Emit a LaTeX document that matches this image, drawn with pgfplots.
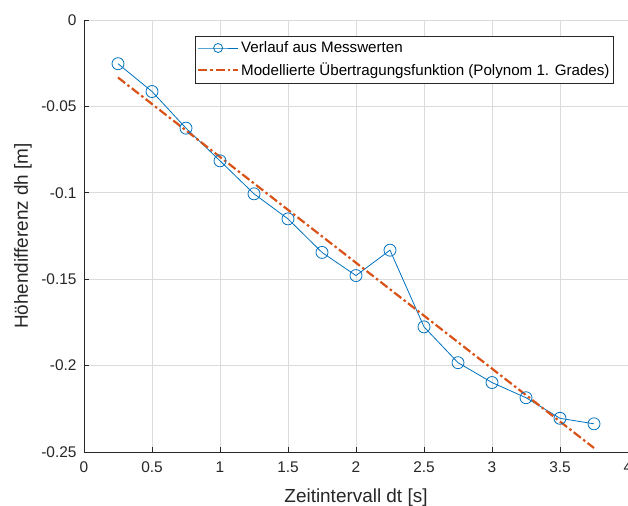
\documentclass[border=0pt]{standalone}
\usepackage{fontspec}
\setmainfont{Liberation Sans}
\usepackage{pgfplots}
\pgfplotsset{compat=1.18}
\definecolor{mblue}{rgb}{0,0.447,0.741}
\definecolor{morange}{rgb}{0.85,0.325,0.098}
\definecolor{axgray}{rgb}{0.15,0.15,0.15}
\begin{document}
\begin{tikzpicture}
\begin{axis}[
  name=ax,
  scale only axis, width=544bp, height=432bp,
  xmin=0, xmax=4, ymin=-0.25, ymax=0,
  xtick={0,0.5,1,1.5,2,2.5,3,3.5,4},
  ytick={-0.25,-0.2,-0.15,-0.1,-0.05,0},
  yticklabels={-0.25,-0.2,-0.15,-0.1,-0.05,0},
  xticklabels={0,0.5,1,1.5,2,2.5,3,3.5,4},
  axis x line*=bottom, axis y line*=left,
  axis line style={draw=axgray, line width=0.8bp},
  tick align=inside, major tick length=5bp,
  tick style={draw=axgray, line width=0.6bp},
  grid=major, major grid style={line width=0.6bp, draw=black!14},
  ticklabel style={font=\fontsize{15.5}{16}\selectfont, text=axgray},
  xticklabel style={yshift=-6bp},
  yticklabel style={xshift=-4bp},
  xlabel={Zeitintervall dt [s]},
  ylabel={Höhendifferenz dh [m]},
  label style={font=\fontsize{19}{20}\selectfont, text=axgray},
  xlabel style={at={(axis description cs:0.5,-0.118)}, anchor=base},
  ylabel style={at={(axis description cs:-0.112,0.5)}, anchor=center, rotate=0},
  legend style={at={(axis description cs:0.974,0.963)}, anchor=north east,
    draw=axgray, line width=0.6bp, fill=white,
    font=\fontsize{15.2}{18}\selectfont, text=black,
    inner xsep=2bp, inner ysep=3.5bp, row sep=5bp},
  legend cell align=left,
  legend image code/.code={\draw[mark repeat=2,mark phase=2,#1,mark size=4.5bp] plot coordinates {(0bp,0bp) (20bp,0bp) (40bp,0bp)};},
]
\addplot[color=mblue, line width=0.8bp, mark=o, mark size=6bp, mark options={solid, line width=0.8bp}] coordinates {
(0.25,-0.0253) (0.5,-0.0414) (0.75,-0.0626) (1.0,-0.0815) (1.25,-0.1006)
(1.5,-0.1151) (1.75,-0.1345) (2.0,-0.1479) (2.25,-0.1332) (2.5,-0.1776)
(2.75,-0.1983) (3.0,-0.2098) (3.25,-0.2186) (3.5,-0.2305) (3.75,-0.2337)
};
\addlegendentry{Verlauf aus Messwerten}
\addplot[color=morange, line width=2.2bp, dash pattern=on 9bp off 3bp on 2.5bp off 3bp] coordinates {
(0.25,-0.0333) (3.75,-0.2477)
};
\addlegendentry{Modellierte Übertragungsfunktion (Polynom 1. Grades)}
\end{axis}
\pgfresetboundingbox
\path ([shift={(-84bp,-54bp)}]ax.south west) rectangle ([shift={(0bp,20bp)}]ax.north east);
\end{tikzpicture}
\end{document}
